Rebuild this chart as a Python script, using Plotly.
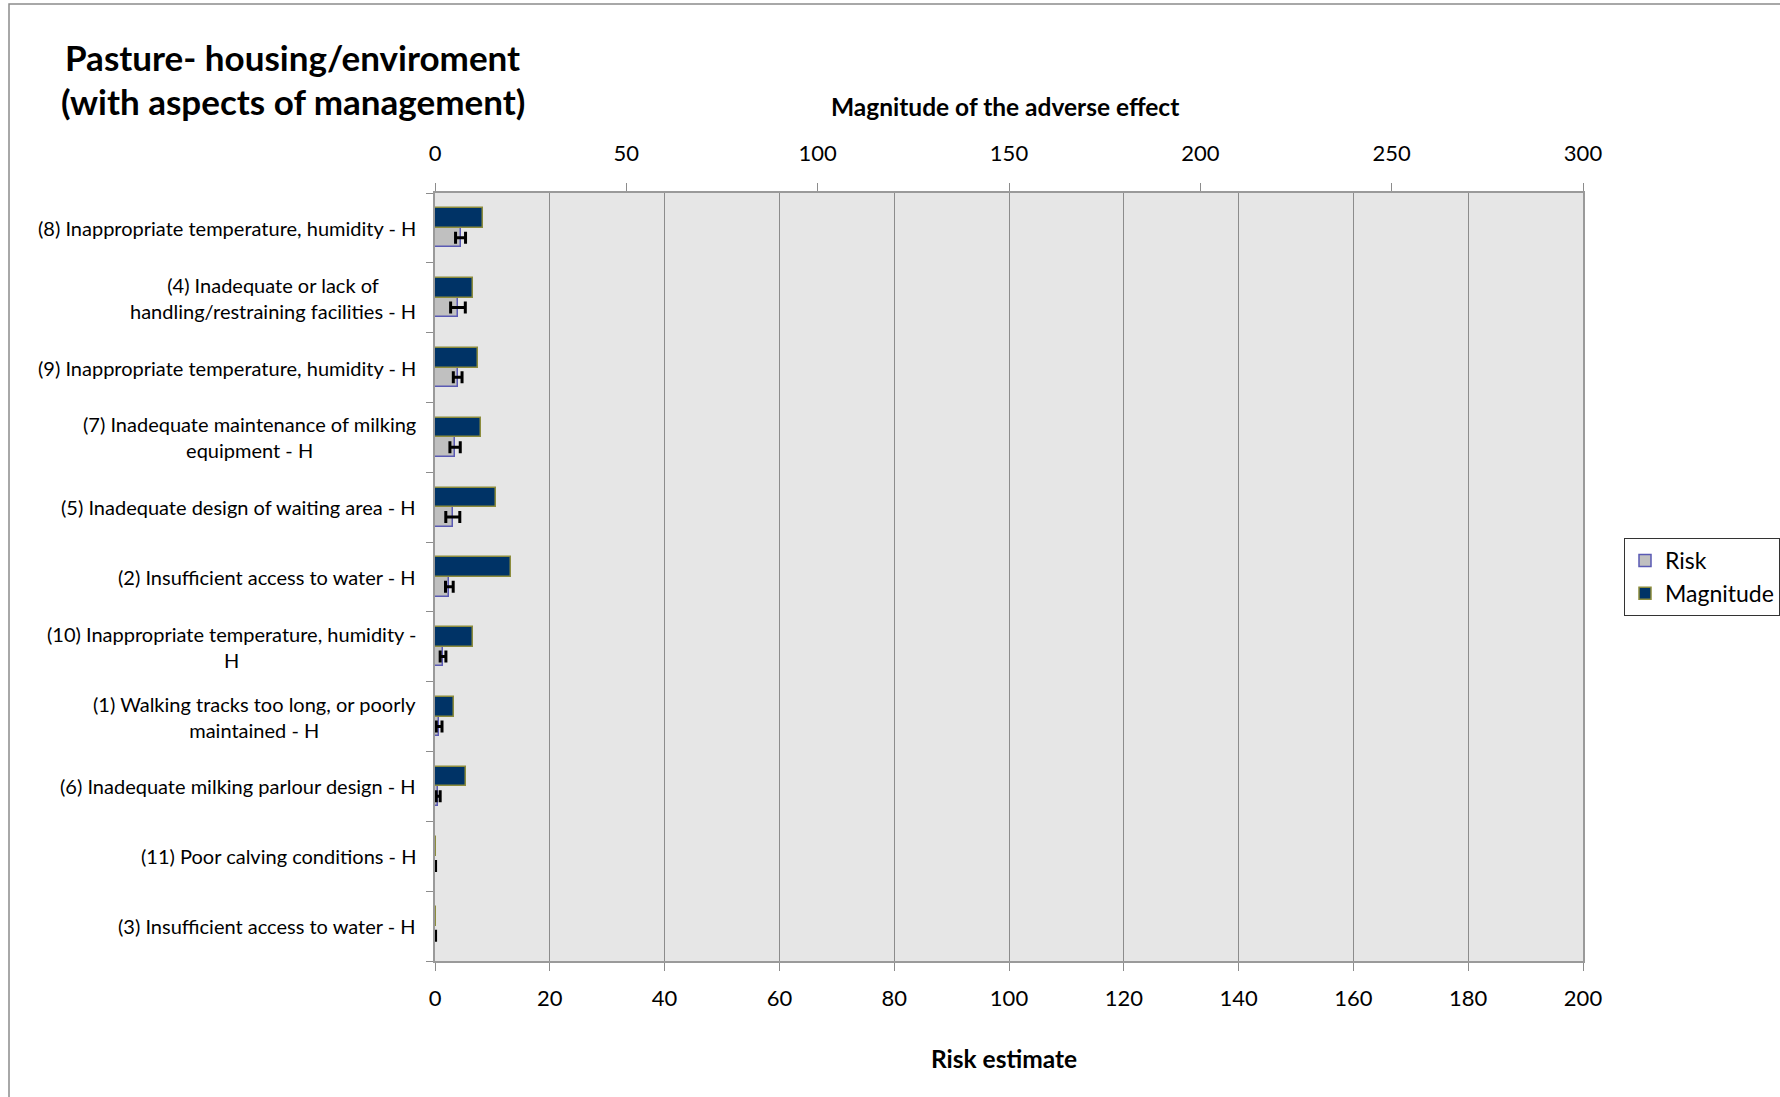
import plotly.graph_objects as go

# ---- data (top to bottom as displayed) ----
categories = [
    "(8) Inappropriate temperature, humidity - H",
    "(4) Inadequate or lack of<br>handling/restraining facilities - H",
    "(9) Inappropriate temperature, humidity - H",
    "(7) Inadequate maintenance of milking<br>equipment - H",
    "(5) Inadequate design of waiting area - H",
    "(2) Insufficient access to water - H",
    "(10) Inappropriate temperature, humidity -<br>H",
    "(1) Walking tracks too long, or poorly<br>maintained - H",
    "(6) Inadequate milking parlour design - H",
    "(11) Poor calving conditions - H",
    "(3) Insufficient access to water - H",
]
magnitude = [12.5, 10.0, 11.3, 11.9, 16.0, 19.9, 10.0, 5.0, 8.0, 0.2, 0.2]
risk = [4.45, 4.0, 3.95, 3.5, 3.1, 2.5, 1.4, 0.72, 0.55, 0.05, 0.05]
risk_err = [0.87, 1.28, 0.76, 0.9, 1.22, 0.67, 0.5, 0.5, 0.35, 0.05, 0.05]

risk_ticks = list(range(0, 201, 20))
mag_ticks = list(range(0, 301, 50))

FONT = "Lato, 'Open Sans', sans-serif"
W, H = 1780, 1097
L, R, T, B = 435, 1583, 193, 961
PW, PH = R - L, B - T


def px(x):
    return (x - L) / PW


def py(y):
    return (B - y) / PH


order = categories[::-1]
bw = 0.28

fig = go.Figure()
fig.add_trace(go.Bar(
    name="Risk", y=categories, x=risk, orientation="h",
    xaxis="x", yaxis="y", width=bw, offset=-bw,
    marker=dict(color="#C0C0C0", line=dict(color="#5A5AB4", width=1.5)),
    error_x=dict(type="data", array=risk_err, symmetric=True,
                 color="black", thickness=3, width=6),
))
fig.add_trace(go.Bar(
    name="Magnitude", y=categories, x=magnitude, orientation="h",
    xaxis="x2", yaxis="y", width=bw, offset=0,
    marker=dict(color="#003366", line=dict(color="#8C8C3C", width=1.5)),
))

annotations = []
for c in categories:
    annotations.append(dict(
        xref="paper", yref="y", x=0, y=c, xanchor="right", yanchor="middle",
        xshift=-17, text=c, showarrow=False, align="center",
        font=dict(family=FONT, size=20, color="black")))

annotations += [
    dict(xref="paper", yref="paper", x=px(63), y=py(57), xanchor="left", yanchor="middle",
         text="<b>Pasture- housing/enviroment</b>", showarrow=False,
         font=dict(family=FONT, size=35, color="black")),
    dict(xref="paper", yref="paper", x=px(59), y=py(101), xanchor="left", yanchor="middle",
         text="<b>(with aspects of management)</b>", showarrow=False,
         font=dict(family=FONT, size=35, color="black")),
    dict(xref="paper", yref="paper", x=px(1005), y=py(106), xanchor="center", yanchor="middle",
         text="<b>Magnitude of the adverse effect</b>", showarrow=False,
         font=dict(family=FONT, size=24.5, color="black")),
    dict(xref="paper", yref="paper", x=px(1004), y=py(1058), xanchor="center", yanchor="middle",
         text="<b>Risk estimate</b>", showarrow=False,
         font=dict(family=FONT, size=24.5, color="black")),
]

fig.update_layout(
    width=W, height=H,
    margin=dict(l=L, r=W - R, t=T, b=H - B, autoexpand=False),
    paper_bgcolor="white", plot_bgcolor="#E6E6E6",
    barmode="overlay", bargap=0,
    font=dict(family=FONT, size=20, color="black"),
    xaxis=dict(range=[0, 200], tickvals=risk_ticks, ticktext=[str(v) for v in risk_ticks],
               side="bottom", showgrid=True, gridcolor="#8C8C8C", gridwidth=1,
               zeroline=False, showline=True, linecolor="#9A9A9A", linewidth=1.5,
               ticks="outside", ticklen=8, tickcolor="#8C8C8C",
               tickfont=dict(family=FONT, size=22, color="black"),
               ticklabelstandoff=9, fixedrange=True),
    xaxis2=dict(range=[0, 300], tickvals=mag_ticks, ticktext=[str(v) for v in mag_ticks],
                overlaying="x", side="top", anchor="y", showgrid=False, zeroline=False,
                showline=True, linecolor="#9A9A9A", linewidth=1.5,
                ticks="outside", ticklen=8, tickcolor="#8C8C8C",
                tickfont=dict(family=FONT, size=22, color="black"),
                ticklabelstandoff=13, fixedrange=True),
    yaxis=dict(categoryorder="array", categoryarray=order, type="category",
               range=[-0.5, len(order) - 0.5], showticklabels=False,
               tickson="boundaries", ticks="outside", ticklen=7, tickcolor="#8C8C8C",
               showgrid=False, zeroline=False, showline=True, mirror=True,
               linecolor="#9A9A9A", linewidth=1.5, fixedrange=True),
    legend=dict(x=px(1624), y=py(538), xanchor="left", yanchor="top",
                bordercolor="#333333", borderwidth=1, bgcolor="white",
                font=dict(family=FONT, size=23, color="black"),
                traceorder="normal", itemwidth=30, tracegroupgap=4),
    annotations=annotations,
    shapes=[dict(type="rect", xref="paper", yref="paper",
                 x0=px(9), x1=1.5, y0=-0.5, y1=py(4),
                 line=dict(color="#8C8C8C", width=1.5), fillcolor="rgba(0,0,0,0)",
                 layer="below")],
    showlegend=True,
)

fig.write_html("out.html", config={"displayModeBar": False},
               post_script="document.body.style.margin='0';document.body.style.overflow='hidden';")
